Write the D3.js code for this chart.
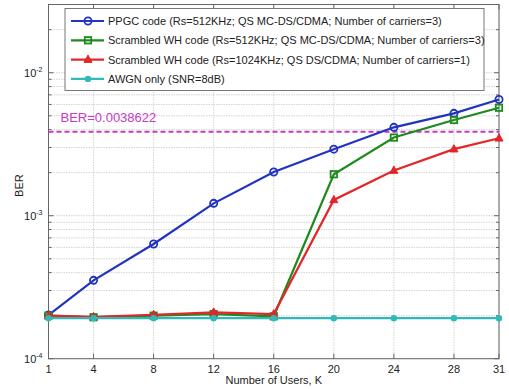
<!DOCTYPE html>
<meta charset="utf-8">
<head>
  <title>BER vs number of users</title>
</head>
<style>
body { margin: 0; background: #fff; }
svg { font-family: "Liberation Sans", Arial, sans-serif; }
</style>
<body>
<div id="chart"></div>
<script src="https://cdnjs.cloudflare.com/ajax/libs/d3/7.8.5/d3.min.js"></script>
<script>
// number of users K
var users = [1, 4, 8, 12, 16, 20, 24, 28, 31];

// BER values
var ppgc    = [2.02e-4, 3.53e-4, 6.34e-4, 1.22e-3, 2.02e-3, 2.92e-3, 4.15e-3, 5.2e-3, 6.5e-3];
var whQs    = [2.0e-4, 1.95e-4, 2.0e-4, 2.05e-4, 1.98e-4, 1.95e-3, 3.52e-3, 4.67e-3, 5.69e-3];
var whDs    = [2.0e-4, 1.96e-4, 2.03e-4, 2.11e-4, 2.05e-4, 1.29e-3, 2.07e-3, 2.92e-3, 3.48e-3];
var awgn    = [1.92e-4, 1.92e-4, 1.92e-4, 1.92e-4, 1.92e-4, 1.92e-4, 1.92e-4, 1.92e-4, 1.92e-4];

var seriesNames = [
  'PPGC code (Rs=512KHz; QS MC-DS/CDMA; Number of carriers=3)',
  'Scrambled WH code (Rs=512KHz; QS MC-DS/CDMA; Number of carriers=3)',
  'Scrambled WH code (Rs=1024KHz; QS DS/CDMA; Number of carriers=1)',
  'AWGN only (SNR=8dB)'
];
var xTicks = [1, 4, 8, 12, 16, 20, 24, 28, 31];
var yTicks = [1e-4, 1e-3, 1e-2];
var berLimit = 0.0038622;

var series = [
  {name: seriesNames[0], values: ppgc, color: '#2233c0', marker: 'circle'},
  {name: seriesNames[1], values: whQs, color: '#1e8a1e', marker: 'square'},
  {name: seriesNames[2], values: whDs, color: '#e3262a', marker: 'triangle'},
  {name: seriesNames[3], values: awgn, color: '#2fbab8', marker: 'dot'}
];

var W = 509, H = 389;
var m = {left: 48.5, right: 10, top: 4.5, bottom: 30.3};
var pw = W - m.left - m.right, ph = H - m.top - m.bottom;

var svg = d3.select('#chart').append('svg')
  .attr('width', W).attr('height', H);
var g = svg.append('g').attr('transform', 'translate(' + m.left + ',' + m.top + ')');

var x = d3.scaleLinear().domain([1, 31]).range([0, pw]);
var y = d3.scaleLog().domain([1e-4, 3e-2]).range([ph, 0]);

// minor + major grid
var minor = [];
[1e-4, 1e-3, 1e-2].forEach(function(d) {
  for (var k = 1; k <= 9; k++) {
    var v = d * k;
    if (v <= 3e-2) minor.push(v);
  }
});
g.selectAll('.hgrid').data(minor).enter().append('line')
  .attr('x1', 0).attr('x2', pw)
  .attr('y1', function(d) { return y(d); }).attr('y2', function(d) { return y(d); })
  .attr('stroke', '#d4d4d4').attr('stroke-width', 1).attr('stroke-dasharray', '1.5,1');
g.selectAll('.vgrid').data(xTicks).enter().append('line')
  .attr('y1', 0).attr('y2', ph)
  .attr('x1', function(d) { return x(d); }).attr('x2', function(d) { return x(d); })
  .attr('stroke', '#d4d4d4').attr('stroke-width', 1).attr('stroke-dasharray', '1.5,1');

// ticks inside box
g.selectAll('.ytk').data(minor).enter().append('path')
  .attr('d', function(d) {
    var len = yTicks.indexOf(d) >= 0 ? 5 : 3;
    return 'M0,' + y(d) + 'h' + len + 'M' + pw + ',' + y(d) + 'h' + (-len);
  })
  .attr('stroke', '#666').attr('fill', 'none');
g.selectAll('.xtk').data(xTicks).enter().append('path')
  .attr('d', function(d) { return 'M' + x(d) + ',' + ph + 'v-5M' + x(d) + ',0v5'; })
  .attr('stroke', '#666').attr('fill', 'none');

g.append('rect').attr('width', pw).attr('height', ph)
  .attr('fill', 'none').attr('stroke', '#666').attr('stroke-width', 1);

// tick labels
g.selectAll('.xl').data(xTicks).enter().append('text')
  .attr('x', function(d) { return x(d); }).attr('y', ph + 14)
  .attr('text-anchor', 'middle').attr('font-size', 11).attr('fill', '#222')
  .text(function(d) { return d; });

var yl = g.selectAll('.yl').data(yTicks).enter().append('text')
  .attr('x', -6).attr('y', function(d) { return y(d) + 4; })
  .attr('text-anchor', 'end').attr('font-size', 11).attr('fill', '#222');
yl.append('tspan').text('10');
yl.append('tspan').attr('dy', -5).attr('font-size', 7)
  .text(function(d) { return Math.round(Math.log10(d)); });

// axis titles
svg.append('text')
  .attr('x', m.left + pw / 2).attr('y', H - 5)
  .attr('text-anchor', 'middle').attr('font-size', 11).attr('fill', '#222')
  .text('Number of Users, K');
svg.append('text')
  .attr('transform', 'translate(23,' + (m.top + ph / 2 + 4) + ') rotate(-90)')
  .attr('text-anchor', 'middle').attr('font-size', 11).attr('fill', '#222')
  .text('BER');

// BER target line
g.append('line')
  .attr('x1', 0).attr('x2', pw)
  .attr('y1', y(berLimit)).attr('y2', y(berLimit))
  .attr('stroke', '#c43cc4').attr('stroke-width', 2).attr('stroke-dasharray', '5,3');
g.append('text')
  .attr('x', 12).attr('y', y(berLimit) - 10)
  .attr('font-size', 13).attr('fill', '#c43cc4')
  .text('BER=' + berLimit);

// lines and markers
var line = d3.line()
  .x(function(d, i) { return x(users[i]); })
  .y(function(d) { return y(d); });

function drawMarker(sel, s, cx, cy) {
  if (s.marker === 'circle') {
    sel.append('circle').attr('cx', cx).attr('cy', cy).attr('r', 3.6)
      .attr('fill', 'none').attr('stroke', s.color).attr('stroke-width', 1.8);
  } else if (s.marker === 'square') {
    sel.append('rect').attr('x', cx - 3.2).attr('y', cy - 3.2).attr('width', 6.4).attr('height', 6.4)
      .attr('fill', 'none').attr('stroke', s.color).attr('stroke-width', 1.8);
  } else if (s.marker === 'triangle') {
    sel.append('path').attr('d', 'M' + cx + ',' + (cy - 4.5) + 'L' + (cx + 4) + ',' + (cy + 2.8) + 'L' + (cx - 4) + ',' + (cy + 2.8) + 'Z')
      .attr('fill', s.color).attr('stroke', s.color);
  } else {
    sel.append('circle').attr('cx', cx).attr('cy', cy).attr('r', 3.2)
      .attr('fill', s.color);
  }
}

series.forEach(function(s) {
  var sg = g.append('g');
  sg.append('path').datum(s.values)
    .attr('d', line).attr('fill', 'none')
    .attr('stroke', s.color).attr('stroke-width', 2.2);
  s.values.forEach(function(v, i) { drawMarker(sg, s, x(users[i]), y(v)); });
});

// legend
var lg = svg.append('g').attr('transform', 'translate(65,8.5)');
lg.append('rect').attr('width', 419).attr('height', 82)
  .attr('fill', '#fff').attr('stroke', '#777');
series.forEach(function(s, i) {
  var ly = 12.5 + i * 19.3;
  lg.append('line').attr('x1', 6).attr('x2', 39).attr('y1', ly).attr('y2', ly)
    .attr('stroke', s.color).attr('stroke-width', 2.2);
  drawMarker(lg, s, 23, ly);
  lg.append('text').attr('x', 43).attr('y', ly + 4)
    .attr('font-size', 11).attr('fill', '#222').text(s.name);
});
</script>
</body>
</html>
